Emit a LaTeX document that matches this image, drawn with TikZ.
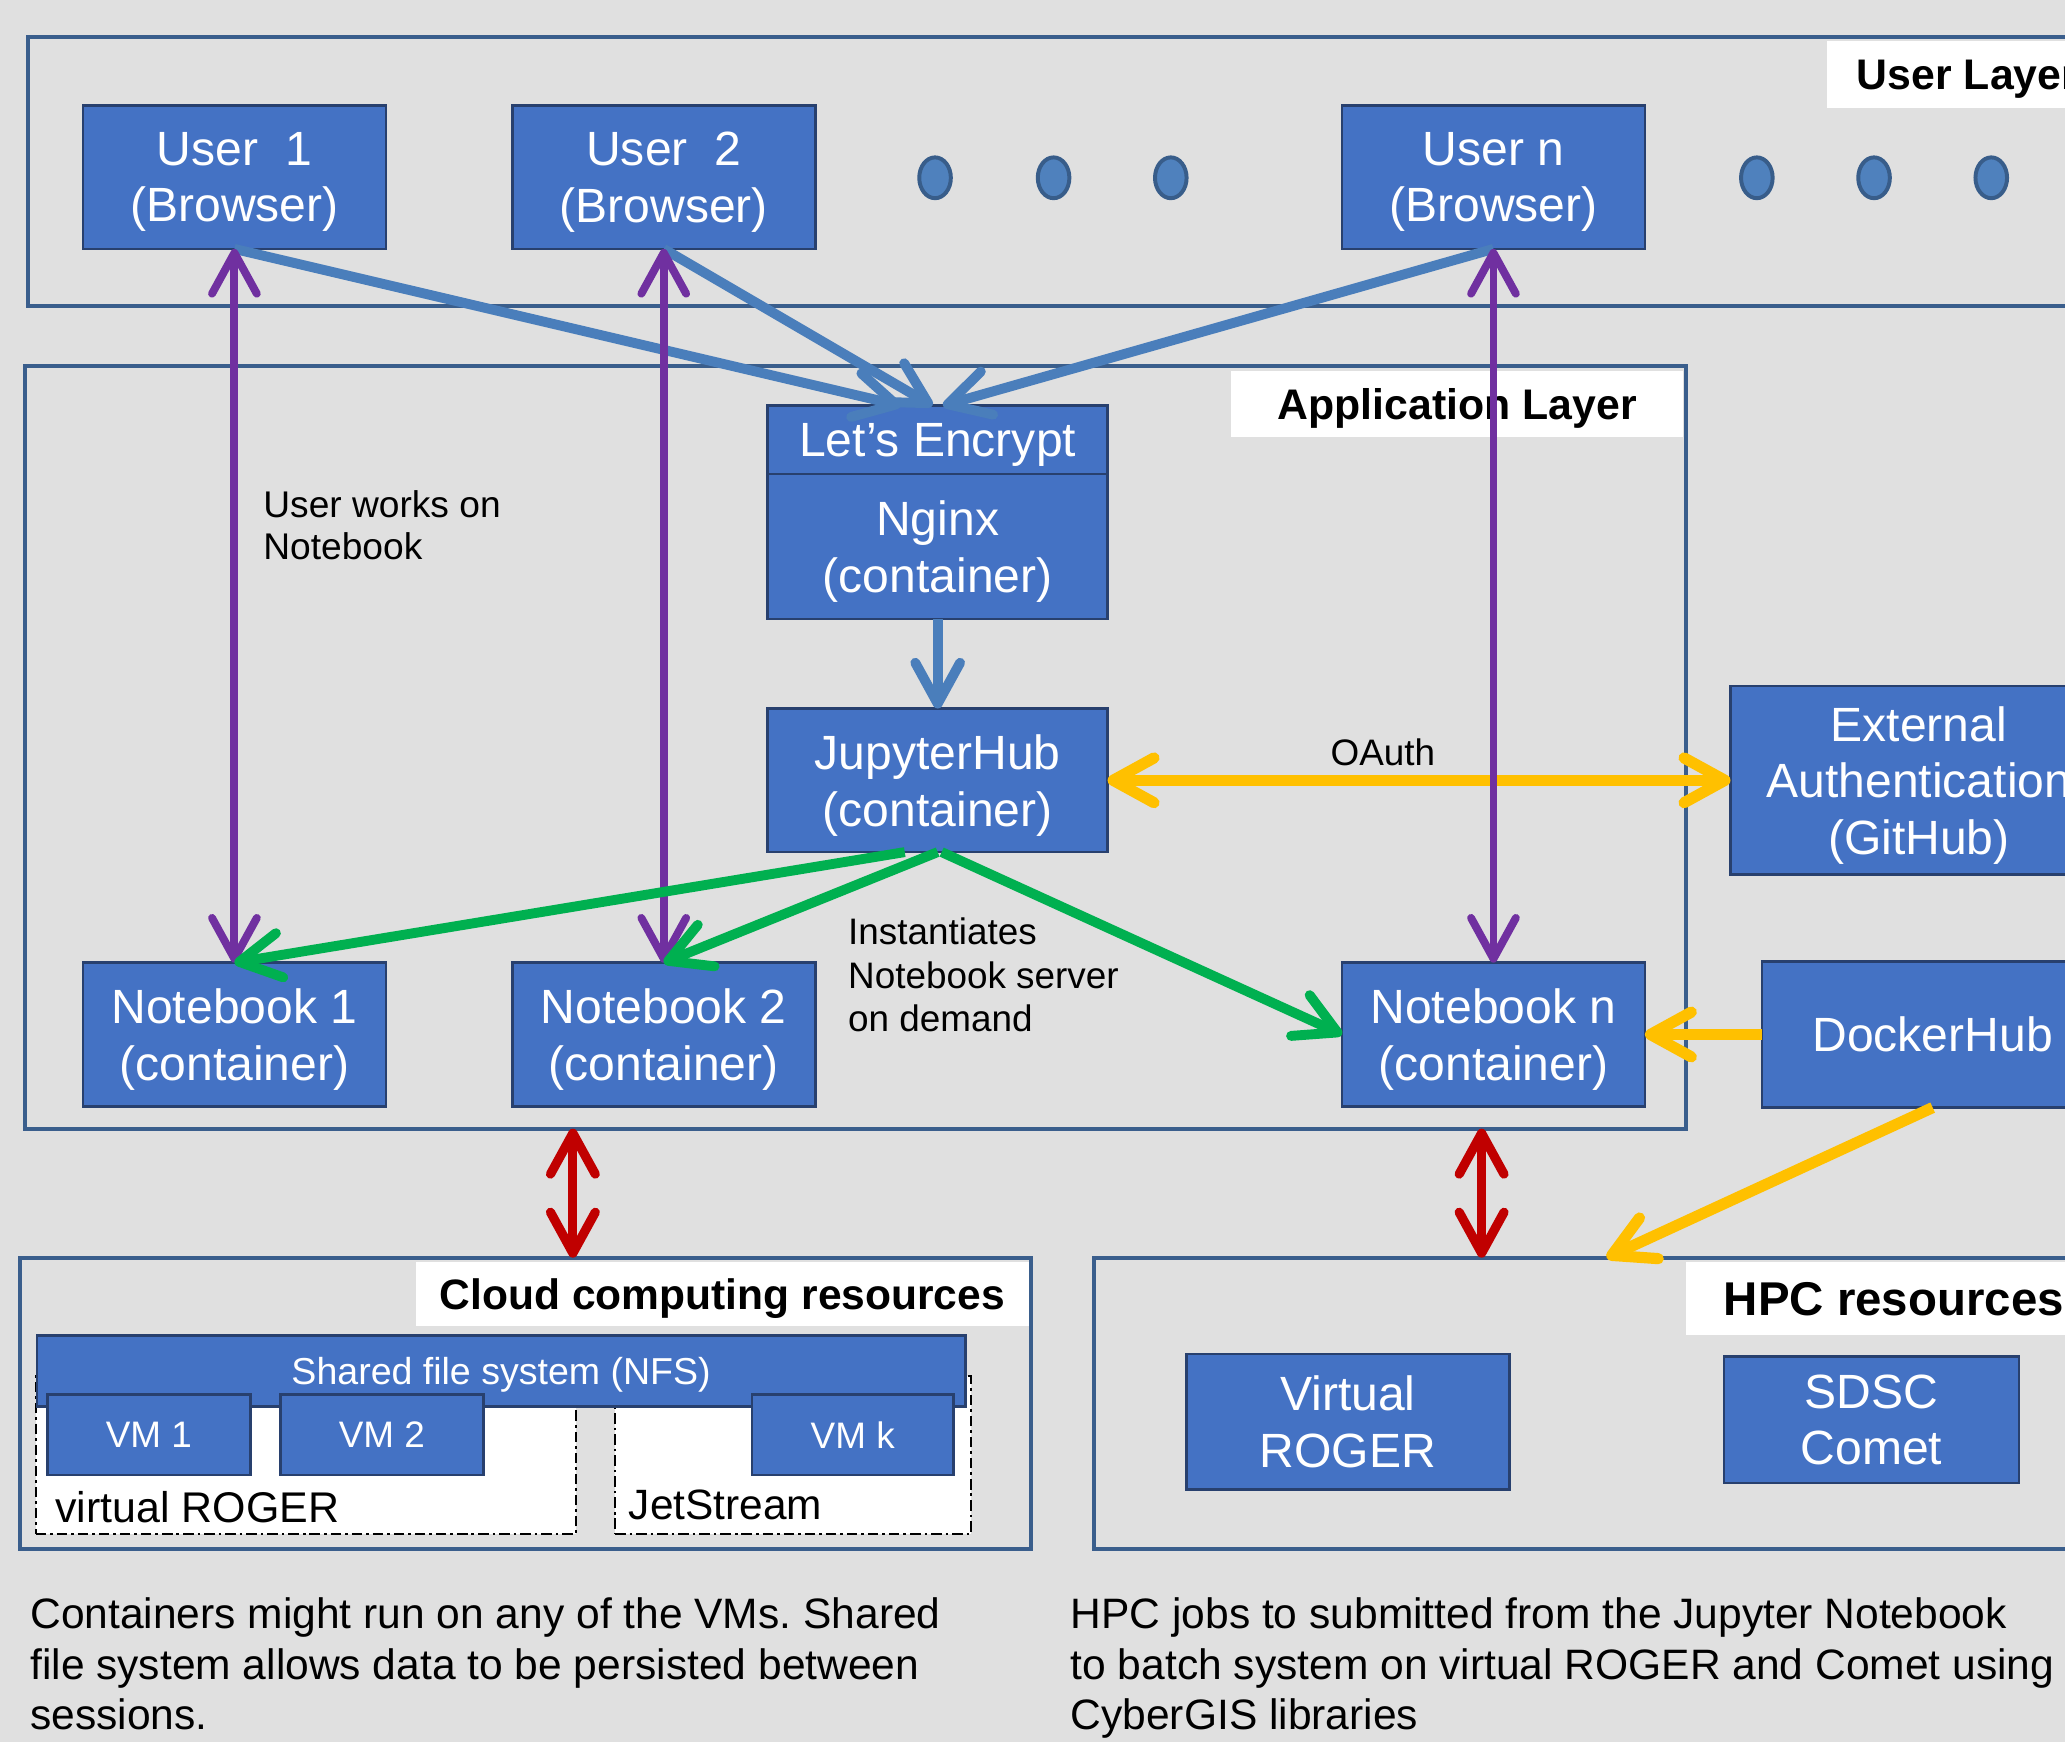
\documentclass[tikz,border=0pt]{standalone}
\usepackage{fontspec}
\setmainfont{Liberation Sans}
\usetikzlibrary{arrows.meta,shapes.geometric}
\frenchspacing
\definecolor{bg}{RGB}{224,224,224}
\definecolor{layerline}{RGB}{58,94,140}
\definecolor{boxfill}{RGB}{68,114,196}
\definecolor{boxline}{RGB}{40,64,110}
\definecolor{dotfill}{RGB}{79,129,189}
\definecolor{dotline}{RGB}{56,93,138}
\definecolor{ablue}{RGB}{74,126,187}
\definecolor{apurple}{RGB}{112,48,160}
\definecolor{agreen}{RGB}{0,176,80}
\definecolor{aorange}{RGB}{255,192,0}
\definecolor{ared}{RGB}{192,0,0}
\begin{document}
\frenchspacing
\begin{tikzpicture}[x=1pt,y=-1pt,
  every node/.style={inner sep=0pt, outer sep=0pt},
  >={Straight Barb[length=31pt,width=34pt,round]},
  layer/.style={rectangle, draw=layerline, line width=3pt},
  lblbox/.style={rectangle, fill=white, font=\fontsize{32.5}{38}\selectfont\bfseries, text height=23.5pt, text depth=0pt},
  bbox/.style={rectangle, fill=boxfill, draw=boxline, line width=2pt, text=white, align=center, font=\fontsize{36.5}{43}\selectfont, text depth=0pt},
  vmbox/.style={bbox, font=\fontsize{28}{34}\selectfont},
  region/.style={rectangle, fill=white, draw=black, line width=1.5pt, dash pattern=on 8pt off 3pt on 2pt off 3pt},
  dotnode/.style={ellipse, fill=dotfill, draw=dotline, line width=3pt, minimum width=24pt, minimum height=31pt},
  freetext/.style={align=left, anchor=north west},
  bluearr/.style={draw=ablue, line width=7.5pt, ->},
  purparr/.style={draw=apurple, line width=6pt, <->},
  greenarr/.style={draw=agreen, line width=7.5pt, ->},
  orarr/.style={draw=aorange, line width=8.5pt},
  redarr/.style={draw=ared, line width=7pt, <->}
]
\useasboundingbox (0,0) rectangle (1568,1323);
\fill[bg] (0,0) rectangle (1568,1323);

% layers
\node[layer, minimum width=1599pt, minimum height=204pt] (ul) at (820.5,130) {};
\node[lblbox, anchor=north west, minimum height=51pt, inner xsep=23pt] (ullbl) at (1387,31) {User Layer};
\node[layer, minimum width=1261pt, minimum height=579pt] (app) at (649.5,567.5) {};
\node[lblbox, minimum width=343pt, minimum height=50pt] (applbl) at (1106.5,307) {Application Layer};
\node[layer, minimum width=768pt, minimum height=221pt] (cloud) at (399,1065.5) {};
\node[lblbox, minimum width=465pt, minimum height=49pt, font=\fontsize{32.3}{38}\selectfont\bfseries] (cloudlbl) at (548.5,982.5) {Cloud computing resources};
\node[layer, minimum width=789pt, minimum height=221pt] (hpc) at (1225.5,1065.5) {};
\node[lblbox, anchor=north west, minimum height=56pt, inner xsep=29pt, font=\fontsize{36}{42}\selectfont\bfseries, text height=26pt] (hpclbl) at (1280,958) {HPC resources};

% user layer
\node[bbox, minimum width=230pt, minimum height=109pt] (u1) at (178,134.5) {User\ \ 1\\(Browser)};
\node[bbox, minimum width=230pt, minimum height=109pt] (u2) at (504,134.5) {User\ \ 2\\(Browser)};
\node[bbox, minimum width=230pt, minimum height=109pt] (un) at (1134,134.5) {User n\\(Browser)};
\node[dotnode] (d1) at (710,135) {};
\node[dotnode] (d2) at (800,135) {};
\node[dotnode] (d3) at (889,135) {};
\node[dotnode] (d4) at (1334,135) {};
\node[dotnode] (d5) at (1423,135) {};
\node[dotnode] (d6) at (1512,135) {};

% application layer
\node[bbox, minimum width=258pt, minimum height=52pt] (le) at (712,334) {Let’s Encrypt};
\node[bbox, minimum width=258pt, minimum height=110pt] (ng) at (712,415) {Nginx\\(container)};
\node[bbox, minimum width=258pt, minimum height=109pt] (jh) at (712,592.5) {JupyterHub\\(container)};
\node[bbox, minimum width=230pt, minimum height=109pt] (n1) at (178,785.5) {Notebook 1\\(container)};
\node[bbox, minimum width=230pt, minimum height=109pt] (n2) at (504,785.5) {Notebook 2\\(container)};
\node[bbox, minimum width=230pt, minimum height=109pt] (nn) at (1134,785.5) {Notebook n\\(container)};
\node[bbox, minimum width=286pt, minimum height=143pt] (ext) at (1457,592.5) {External\\Authentication\\(GitHub)};
\node[bbox, minimum width=259pt, minimum height=111pt] (dh) at (1467.5,785.5) {DockerHub};

% cloud resources
\node[region, minimum width=410pt, minimum height=120pt] (vrreg) at (232,1105) {};
\node[region, minimum width=270pt, minimum height=120pt] (jsreg) at (602,1105) {};
\node[bbox, font=\fontsize{28.5}{33}\selectfont, minimum width=705pt, minimum height=54pt] (nfs) at (380.5,1041) {Shared file system (NFS)};
\node[vmbox, minimum width=154pt, minimum height=61pt] (vm1) at (113,1089.5) {VM 1};
\node[vmbox, minimum width=154pt, minimum height=61pt] (vm2) at (290,1089.5) {VM 2};
\node[vmbox, minimum width=153pt, minimum height=61pt] (vmk) at (647.5,1089.5) {VM k};
\node[anchor=base west, font=\fontsize{32.6}{38}\selectfont] (vrtxt) at (42,1156) {virtual ROGER};
\node[anchor=base west, font=\fontsize{32.2}{38}\selectfont] (jstxt) at (477.5,1154) {JetStream};

% hpc resources
\node[bbox, minimum width=245pt, minimum height=103pt] (vr) at (1023.5,1079.5) {Virtual\\ROGER};
\node[bbox, minimum width=224pt, minimum height=96pt] (sd) at (1421,1078) {SDSC\\Comet};

% free texts
\node[freetext, font=\fontsize{28.2}{32}\selectfont] (works) at (200,372.4) {User works on\\Notebook};
\node[anchor=base, font=\fontsize{28}{32}\selectfont] (oauth) at (1050,581) {OAuth};
\node[freetext, font=\fontsize{28}{33}\selectfont] (inst) at (644,697) {Instantiates\\Notebook server\\on demand};
\node[freetext, font=\fontsize{32.3}{38}\selectfont] (cap1) at (23,1213.5) {Containers might run on any of the VMs. Shared\\file system allows data to be persisted between\\sessions.};
\node[freetext, font=\fontsize{32.3}{38}\selectfont] (cap2) at (813,1213.5) {HPC jobs to submitted from the Jupyter Notebook\\to batch system on virtual ROGER and Comet using\\CyberGIS libraries};

% blue arrows
\draw[bluearr] (u1.south) -- ([xshift=-28pt]le.north);
\draw[bluearr] (u2.south) -- ([xshift=-4pt]le.north);
\draw[bluearr] (un.south) -- ([xshift=4pt]le.north);
\draw[bluearr] (ng.south) -- (jh.north);

% orange arrows
\draw[orarr, <->] (jh.east) -- (ext.west);
\draw[orarr, ->] (dh.west) -- (nn.east);
\draw[orarr, ->] (dh.south) -- ([xshift=389pt]hpc.north west);

% purple arrows
\draw[purparr] (u1.south) -- (n1.north);
\draw[purparr] (u2.south) -- (n2.north);
\draw[purparr] (un.south) -- (nn.north);

% green arrows
\draw[greenarr] ([xshift=-25pt]jh.south) -- (n1.north);
\draw[greenarr] (jh.south) -- (n2.north);
\draw[greenarr] ([xshift=3pt]jh.south) -- (nn.west);

% red arrows
\coordinate (r1) at ([xshift=416pt]app.south west);
\coordinate (r2) at ([xshift=1106pt]app.south west);
\draw[redarr] (r1) -- (r1 |- cloud.north);
\draw[redarr] (r2) -- (r2 |- hpc.north);
\end{tikzpicture}
\end{document}
